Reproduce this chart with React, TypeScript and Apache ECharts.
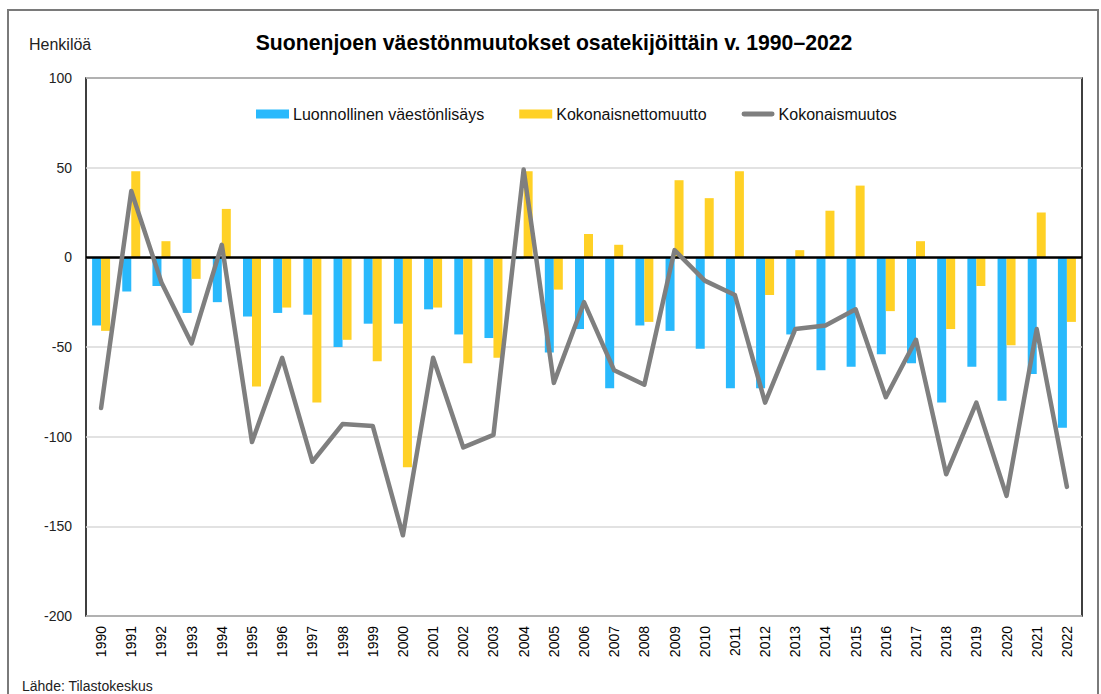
import React, { useEffect, useRef } from "react";
import * as echarts from "echarts";

const years: string[] = [
  "1990","1991","1992","1993","1994","1995","1996","1997","1998","1999",
  "2000","2001","2002","2003","2004","2005","2006","2007","2008","2009",
  "2010","2011","2012","2013","2014","2015","2016","2017","2018","2019",
  "2020","2021","2022",
];

const naturalIncrease: number[] = [
  -38, -19, -16, -31, -25, -33, -31, -32, -50, -37,
  -37, -29, -43, -45, -1, -53, -40, -73, -38, -41,
  -51, -73, -73, -43, -63, -61, -54, -59, -81, -61,
  -80, -65, -95,
];

const netMigration: number[] = [
  -41, 48, 9, -12, 27, -72, -28, -81, -46, -58,
  -117, -28, -59, -56, 48, -18, 13, 7, -36, 43,
  33, 48, -21, 4, 26, 40, -30, 9, -40, -16,
  -49, 25, -36,
];

const totalChange: number[] = [
  -84, 37, -14, -48, 7, -103, -56, -114, -93, -94,
  -155, -56, -106, -99, 49, -70, -25, -63, -71, 4,
  -13, -21, -81, -40, -38, -29, -78, -46, -121, -81,
  -133, -40, -128,
];

const seriesNames = ["Luonnollinen väestönlisäys", "Kokonaisnettomuutto", "Kokonaismuutos"];
const yTicks = { min: -200, max: 100, interval: 50 };

const FONT = "'Liberation Sans', Arial, sans-serif";

export default function App() {
  const ref = useRef<HTMLDivElement>(null);
  useEffect(() => {
    if (!ref.current) return;
    const chart = echarts.init(ref.current, undefined, { renderer: "svg" });
    chart.setOption({
      animation: false,
      backgroundColor: "#fff",
      textStyle: { fontFamily: FONT },
      grid: {
        left: 86,
        top: 78,
        right: 19,
        bottom: 78,
        show: true,
        borderColor: "#000",
        borderWidth: 1.5,
        backgroundColor: "transparent",
      },
      legend: {
        left: 256,
        top: 106,
        padding: 0,
        itemWidth: 33,
        itemHeight: 9,
        itemGap: 35,
        textStyle: { fontSize: 16, color: "#111", fontFamily: FONT, padding: [0, 0, 0, -1] },
        data: [
          { name: seriesNames[0], icon: "rect" },
          { name: seriesNames[1], icon: "rect" },
          { name: seriesNames[2], icon: "path://M2,0 L31,0 A2.5,2.5 0 0 1 31,5 L2,5 A2.5,2.5 0 0 1 2,0 Z" },
        ],
      },
      xAxis: {
        type: "category",
        data: years,
        axisLine: { show: false, onZero: false },
        axisTick: { show: false },
        axisLabel: { rotate: 90, fontSize: 14, color: "#000", margin: 10, interval: 0, fontFamily: FONT },
        splitLine: { show: false },
      },
      yAxis: {
        type: "value",
        min: yTicks.min,
        max: yTicks.max,
        interval: yTicks.interval,
        axisLine: { show: false },
        axisTick: { show: false },
        axisLabel: { fontSize: 14, color: "#222", margin: 14, fontFamily: FONT },
        splitLine: { lineStyle: { color: "#d9d9d9", width: 1.5 } },
      },
      series: [
        {
          name: seriesNames[0],
          type: "bar",
          data: naturalIncrease,
          barWidth: 9,
          barGap: "0%",
          itemStyle: { color: "#29B9FC" },
          markLine: {
            silent: true,
            symbol: "none",
            label: { show: false },
            lineStyle: { color: "#000", width: 2.5, type: "solid" },
            data: [{ yAxis: 0 }],
            z: 5,
          },
        },
        {
          name: seriesNames[1],
          type: "bar",
          data: netMigration,
          barWidth: 9,
          barGap: "0%",
          itemStyle: { color: "#FFD126" },
        },
        {
          name: seriesNames[2],
          type: "line",
          data: totalChange,
          symbol: "none",
          z: 10,
          itemStyle: { color: "#7f7f7f" },
          lineStyle: { color: "#7f7f7f", width: 4.5, cap: "round", join: "round" },
        },
      ],
      graphic: [
        {
          type: "rect",
          shape: { x: 8, y: 10, width: 1090, height: 720 },
          style: { fill: "none", stroke: "#7a7a7a", lineWidth: 2 },
          silent: true,
          z: -10,
        },
        {
          type: "text",
          x: 554,
          y: 42,
          style: {
            text: "Suonenjoen väestönmuutokset osatekijöittäin v. 1990–2022",
            fontSize: 21.2,
            fontWeight: "bold",
            fill: "#000",
            fontFamily: FONT,
            textAlign: "center",
            textVerticalAlign: "middle",
          },
        },
        {
          type: "text",
          x: 29,
          y: 44,
          style: { text: "Henkilöä", fontSize: 16, fill: "#222", fontFamily: FONT, textVerticalAlign: "middle" },
        },
        {
          type: "text",
          x: 22,
          y: 686,
          style: { text: "Lähde: Tilastokeskus", fontSize: 14, fill: "#222", fontFamily: FONT, textVerticalAlign: "middle" },
        },
      ],
    });
    return () => chart.dispose();
  }, []);
  return (
    <div
      ref={ref}
      style={{ position: "absolute", left: 0, top: 0, width: 1101, height: 694 }}
    />
  );
}
